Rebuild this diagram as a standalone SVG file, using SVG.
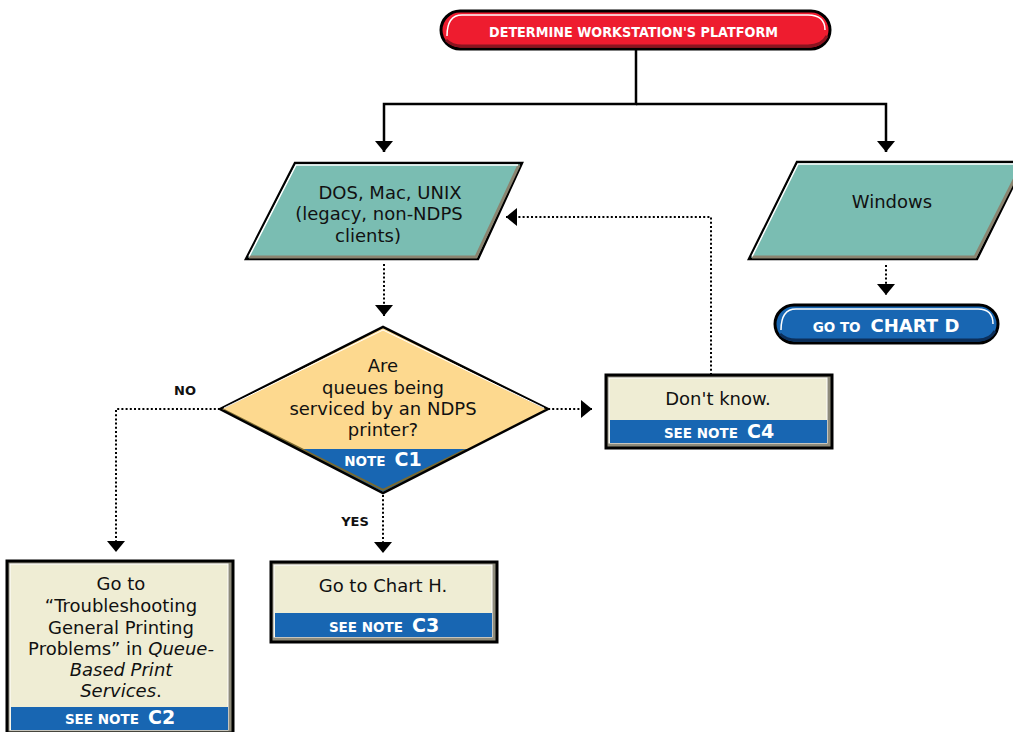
<svg xmlns="http://www.w3.org/2000/svg" width="1013" height="732" viewBox="0 0 1013 732">
<defs>
<style>
text{font-family:"DejaVu Sans","Liberation Sans",sans-serif;fill:#111}
.body{font-size:18px;text-anchor:middle}
.cap{font-size:13.5px;font-weight:bold;fill:#fff}
.big{font-size:19px;font-weight:bold;fill:#fff}
.lbl{font-size:13px;font-weight:bold;text-anchor:middle;fill:#111}
.wire{fill:none;stroke:#000;stroke-width:2.5}
.dot{fill:none;stroke:#000;stroke-width:2;stroke-dasharray:2 2.2}
.frame{fill:#8e8b7b;stroke:#000;stroke-width:3}
.cream{fill:#efedd4;stroke:#fff;stroke-width:1}
.band{fill:#1866b2}
.para{fill:#7abdb2;stroke:#000;stroke-width:2.5;stroke-linejoin:miter}
.shade{fill:none;stroke:#8a8470;stroke-width:3}
.hl{fill:none;stroke:#fff;stroke-width:1.5}
</style>
<marker id="ah" markerUnits="userSpaceOnUse" markerWidth="12" markerHeight="20" viewBox="0 0 12 20" refX="11" refY="10" orient="auto">
<path d="M0,1 L11,10 L0,19 z" fill="#000"/>
</marker>
</defs>

<g id="connectors">
<polyline class="wire" points="636,49 636,104 384,104 384,152" marker-end="url(#ah)"/>
<polyline class="wire" points="636,104 886,104 886,152" marker-end="url(#ah)"/>
<line class="dot" x1="384" y1="264" x2="384" y2="316" marker-end="url(#ah)"/>
<line class="dot" x1="886" y1="265" x2="886" y2="295" marker-end="url(#ah)"/>
<polyline class="dot" points="220,409 116,409 116,552" marker-end="url(#ah)"/>
<line class="dot" x1="548" y1="409" x2="592" y2="409" marker-end="url(#ah)"/>
<line class="dot" x1="383" y1="495" x2="383" y2="553" marker-end="url(#ah)"/>
<polyline class="dot" points="711,375 711,217 506,217" marker-end="url(#ah)"/>
<text class="lbl" x="185" y="395">NO</text>
<text class="lbl" x="355" y="526">YES</text>
</g>

<g id="start">
<rect x="441" y="11" width="389" height="38" rx="19" fill="#ee1c2f" stroke="#000" stroke-width="3"/>
<path d="M447,36 Q447,15 462,15 L808,15 Q825,15 825,30" fill="none" stroke="#fff" stroke-width="1.5"/>
<path d="M446,40 Q452,46 462,46 L808,46 Q822,46 827,36" fill="none" stroke="#8a1420" stroke-width="3"/>
<text class="cap" x="489" y="37" style="font-size:14.5px" textLength="289" lengthAdjust="spacingAndGlyphs">DETERMINE WORKSTATION'S PLATFORM</text>
</g>

<g id="legacy">
<polygon class="para" points="295,163 522,163 478,259 246,259"/>
<polyline class="shade" points="519,165 476,257 249,257"/>
<polyline class="hl" points="249,256.5 296,165 518,165"/>
<text class="body"><tspan x="390" y="199">DOS, Mac, UNIX</tspan><tspan x="379" y="220">(legacy, non-NDPS</tspan><tspan x="368" y="242">clients)</tspan></text>
</g>

<g id="windows">
<polygon class="para" points="797,162 1025,162 977,259 749,259"/>
<polyline class="shade" points="1022,164 975,257 752,257"/>
<polyline class="hl" points="752,256.5 798,164 1020,164"/>
<text class="body" x="892" y="208">Windows</text>
</g>

<g id="chartd">
<rect x="775" y="305" width="223" height="38" rx="19" fill="#1866b2" stroke="#000" stroke-width="3"/>
<path d="M781,330 Q781,309 796,309 L978,309 Q993,309 993,324" fill="none" stroke="#fff" stroke-width="1.5"/>
<path d="M780,334 Q786,340 796,340 L978,340 Q990,340 995,331" fill="none" stroke="#0c2f5a" stroke-width="3"/>
<text x="886" y="332" text-anchor="middle"><tspan class="cap">GO TO</tspan><tspan class="big" style="font-size:18px" dx="10">CHART D</tspan></text>
</g>

<g id="decision">
<polygon points="220,409 383,327 548,409 383,493" fill="#fdd98f"/>
<polygon class="band" points="298,449 469,449 383,492"/>
<polyline points="224,410 383,490 465,450" fill="none" stroke="#7a6a30" stroke-width="2"/>
<polygon points="220,409 383,327 548,409 383,493" fill="none" stroke="#000" stroke-width="2.5" stroke-linejoin="miter"/>
<polyline points="224,408 383,330 544,408" fill="none" stroke="#fff" stroke-width="1"/>
<text class="body"><tspan x="383" y="372">Are</tspan><tspan x="383" y="394">queues being</tspan><tspan x="383" y="415">serviced by an NDPS</tspan><tspan x="383" y="436">printer?</tspan></text>
<text x="383" y="466" text-anchor="middle"><tspan class="cap">NOTE</tspan><tspan class="big" dx="9">C1</tspan></text>
</g>

<g id="dontknow">
<rect class="frame" x="606" y="375" width="226" height="73"/>
<rect class="cream" x="609" y="378" width="218" height="65"/>
<rect class="band" x="610" y="420" width="217" height="23"/>
<text class="body" x="718" y="405">Don't know.</text>
<text x="719" y="438" text-anchor="middle"><tspan class="cap">SEE NOTE</tspan><tspan class="big" dx="9">C4</tspan></text>
</g>

<g id="charth">
<rect class="frame" x="271" y="562" width="226" height="80"/>
<rect class="cream" x="274" y="565" width="218" height="72"/>
<rect class="band" x="275" y="613" width="217" height="24"/>
<text class="body" x="383" y="592">Go to Chart H.</text>
<text x="384" y="632" text-anchor="middle"><tspan class="cap">SEE NOTE</tspan><tspan class="big" dx="9">C3</tspan></text>
</g>

<g id="general">
<rect class="frame" x="7" y="561" width="226" height="172"/>
<rect class="cream" x="10" y="564" width="218" height="166"/>
<rect class="band" x="11" y="707" width="217" height="23"/>
<text class="body"><tspan x="121" y="590">Go to</tspan><tspan x="121" y="612">“Troubleshooting</tspan><tspan x="121" y="634">General Printing</tspan><tspan x="121" y="655">Problems” in <tspan font-style="italic">Queue-</tspan></tspan><tspan x="121" y="676" font-style="italic">Based Print</tspan><tspan x="121" y="697"><tspan font-style="italic">Services</tspan>.</tspan></text>
<text x="120" y="724" text-anchor="middle"><tspan class="cap">SEE NOTE</tspan><tspan class="big" dx="9">C2</tspan></text>
</g>
</svg>
